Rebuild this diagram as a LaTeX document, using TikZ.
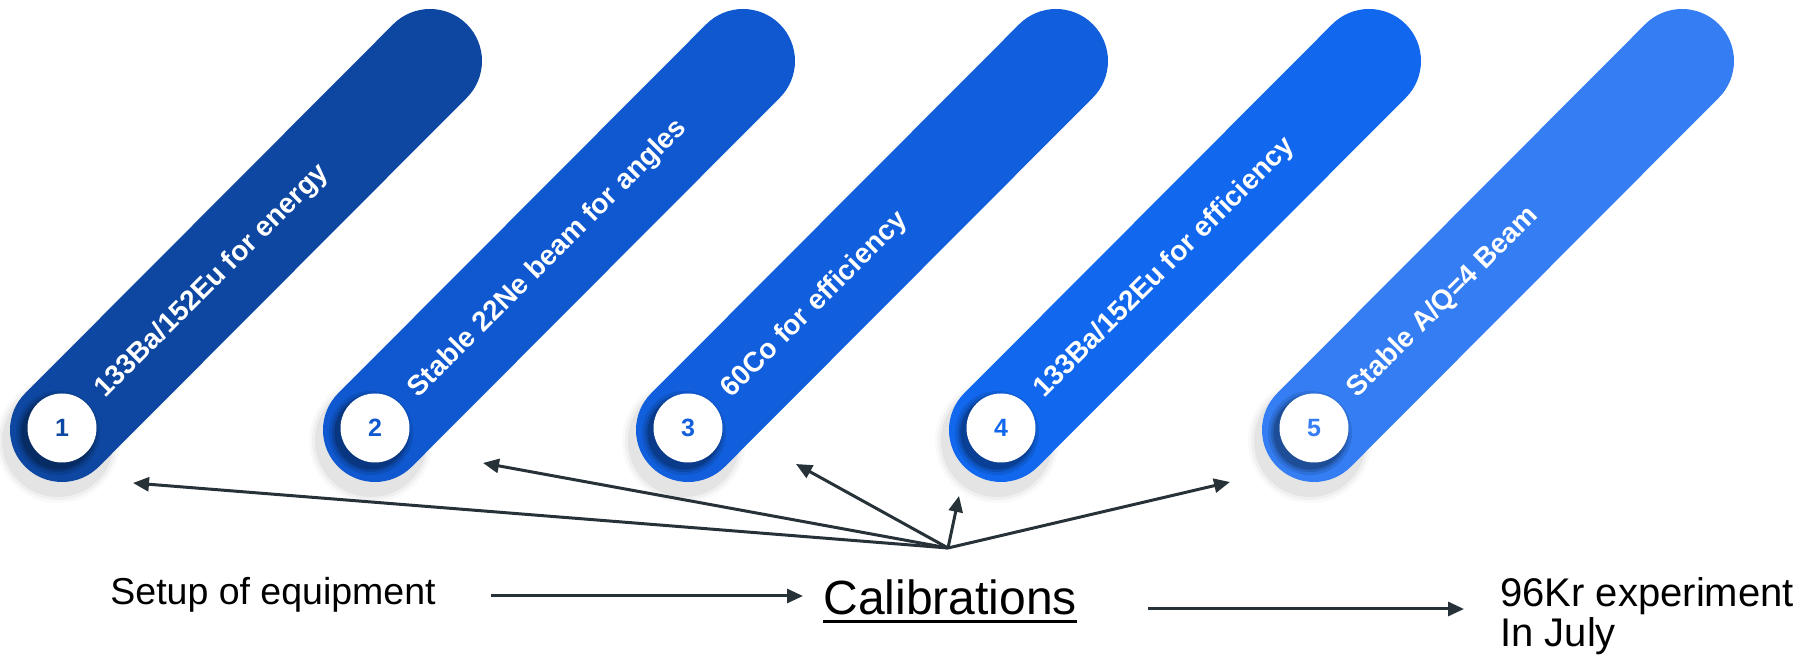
\documentclass[tikz,border=0pt]{standalone}
\usepackage{fontspec}
\setmainfont{Liberation Sans}
\usetikzlibrary{arrows.meta}
\definecolor{pillA}{HTML}{0D47A1}
\definecolor{pillB}{HTML}{0F58CF}
\definecolor{pillC}{HTML}{115FDC}
\definecolor{pillD}{HTML}{1168EE}
\definecolor{pillE}{HTML}{347DF2}
\definecolor{ink}{HTML}{263238}

% one slanted step: #1 number, #2 horizontal offset, #3 colour, #4 caption
\newcommand\pillstep[4]{%
  \begin{scope}[shift={(#2,0)}]
    % soft shadow under the lower end
    \foreach \r/\o in {31pt/0.025,29.5pt/0.035,28pt/0.05}
      \fill[black,opacity=\o] (58,441) circle (\r);
    \draw[line width=52pt,line cap=round,color=#3] (62,430) -- (430,61);
    % shadow round the badge
    \foreach \r/\o in {21pt/0.10,19.5pt/0.14,18.3pt/0.18}
      \fill[black,opacity=\o] (58,433) circle (\r);
    \node[badge,text=#3] (n#1) at (62,428) {#1};
    \node[pilltext] (p#1) at (105,399) {#4};
  \end{scope}}

\begin{document}
\begin{tikzpicture}[x=0.5pt,y=-0.5pt,
  flow/.style={draw=ink,line width=1.5pt,-{Triangle[length=8pt,width=7pt]}},
  badge/.style={circle,fill=white,minimum size=34.5pt,inner sep=0pt,
    font=\bfseries\fontsize{12.5pt}{12.5pt}\selectfont},
  pilltext/.style={text=white,font=\bfseries\fontsize{14pt}{14pt}\selectfont,
    rotate=45,anchor=base west,inner sep=0pt},
  caption/.style={font=\fontsize{18.75pt}{20pt}\selectfont,inner sep=0pt,anchor=base west}
]
\useasboundingbox (0,0) rectangle (1796,656);

\pillstep{1}{0}{pillA}{133Ba/152Eu for energy}
\pillstep{2}{313}{pillB}{Stable 22Ne beam for angles}
\pillstep{3}{626}{pillC}{60Co for efficiency}
\pillstep{4}{939}{pillD}{133Ba/152Eu for efficiency}
\pillstep{5}{1252}{pillE}{Stable A/Q=4 Beam}

% timeline texts
\node[caption] (setup) at (110,605) {Setup of equipment};
\node[caption,font=\fontsize{24pt}{26pt}\selectfont] (calib) at (823,615) {Calibrations};
\draw[line width=1.5pt] ([yshift=-3.5pt]calib.base west) -- ([yshift=-3.5pt]calib.base east);
% the base anchor of a two-line node sits on its last line
\node[caption,font=\fontsize{20pt}{20pt}\selectfont,align=left] (kr) at (1500,647)
  {96Kr experiment\\In July};

% arrows along the timeline
\coordinate (s1) at (491,596);
\coordinate (e1) at (803,596);
\coordinate (s2) at (1148,609);
\coordinate (e2) at (1464,609);
\draw[flow] (s1) -- (e1);
\draw[flow] (s2) -- (e2);

% fan of arrows from the calibrations to the five steps
\coordinate (hub) at (948,548);
\coordinate (t1) at (133,483);
\coordinate (t2) at (483,463);
\coordinate (t3) at (796,464);
\coordinate (t4) at (959,496);
\coordinate (t5) at (1230,482);
\foreach \t in {t1,t2,t3,t4,t5}
  \draw[flow] (hub) -- (\t);
\end{tikzpicture}
\end{document}
